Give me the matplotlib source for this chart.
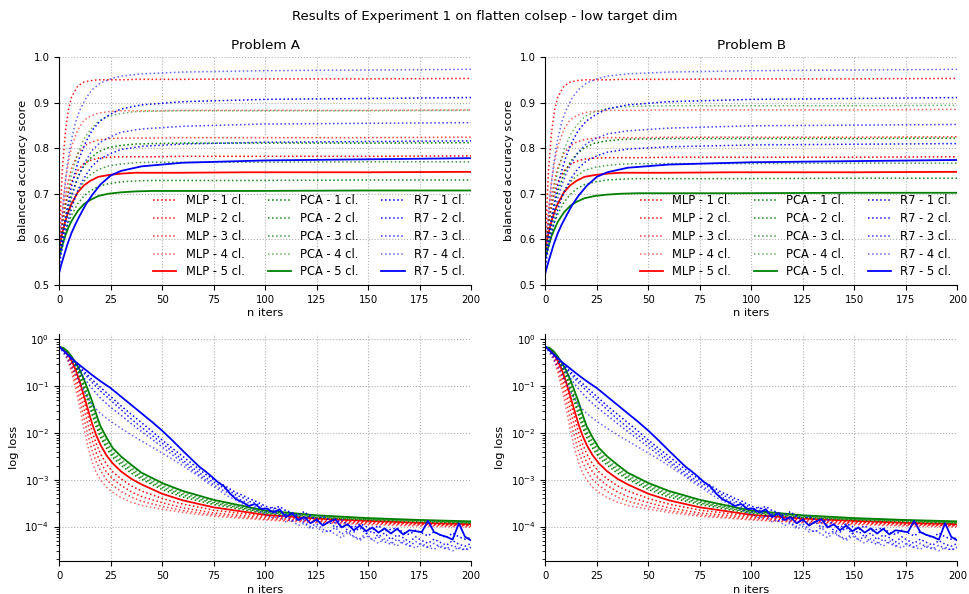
import numpy as np
import matplotlib
matplotlib.use("Agg")
import matplotlib.pyplot as plt

iters_acc_fast = [0, 1.5, 3, 4.5, 6, 9, 12, 15, 19, 24, 30, 37, 45, 60, 90, 150, 200]
iters_acc_r7 = [0, 1, 2, 3, 4, 6, 8, 10, 13, 16, 20, 25, 30, 40, 60, 100, 200]
iters_loss = [0, 2, 4, 6, 8, 10, 12, 14, 16, 18, 20, 23, 26, 30, 35, 40, 50, 60, 75, 100, 125, 150, 175, 200]
iters_r7 = [0, 4, 8, 12, 16, 20, 25, 30, 35, 40, 45, 50, 55, 60, 64, 68] + list(range(71, 201, 3))

methods = ["MLP", "PCA", "R7"]
n_classes = [1, 2, 3, 4, 5]
problems = ["Problem A", "Problem B"]

# balanced accuracy, problem A (one row per number of classes)
acc_a_mlp = [
    [.570, .629, .673, .703, .726, .751, .766, .773, .778, .780, .781, .781, .781, .782, .782, .782, .783],
    [.600, .750, .835, .884, .912, .936, .945, .948, .950, .950, .950, .951, .951, .951, .952, .952, .953],
    [.570, .641, .693, .729, .756, .787, .804, .812, .818, .821, .822, .822, .822, .823, .823, .823, .824],
    [.580, .665, .728, .770, .803, .840, .861, .870, .877, .880, .882, .882, .882, .883, .883, .883, .884],
    [.580, .613, .640, .661, .678, .703, .718, .728, .737, .741, .744, .746, .746, .746, .747, .747, .748],
]
acc_a_pca = [
    [.560, .605, .643, .673, .698, .736, .761, .777, .792, .801, .806, .809, .810, .811, .811, .811, .812],
    [.560, .590, .616, .636, .653, .678, .695, .706, .716, .722, .726, .728, .729, .729, .729, .730, .730],
    [.560, .598, .629, .654, .675, .706, .727, .741, .753, .761, .765, .768, .769, .769, .769, .770, .770],
    [.570, .626, .673, .710, .742, .788, .820, .840, .859, .870, .876, .880, .881, .882, .882, .882, .883],
    [.560, .586, .608, .626, .640, .662, .677, .686, .695, .700, .703, .705, .706, .706, .706, .707, .707],
]
acc_a_r7 = [
    [.550, .586, .619, .647, .673, .716, .752, .781, .814, .839, .860, .875, .886, .895, .902, .907, .911],
    [.540, .568, .592, .615, .634, .667, .695, .717, .741, .761, .777, .788, .797, .804, .809, .813, .816],
    [.550, .581, .608, .633, .654, .691, .721, .746, .773, .795, .813, .825, .835, .842, .848, .853, .856],
    [.550, .620, .680, .725, .765, .820, .858, .883, .910, .928, .943, .952, .958, .963, .967, .970, .973],
    [.526, .544, .559, .574, .589, .614, .634, .652, .677, .697, .720, .740, .750, .760, .768, .773, .778],
]

# balanced accuracy, problem B
acc_b_mlp = [
    [.570, .629, .672, .702, .725, .750, .764, .771, .776, .778, .779, .779, .779, .780, .780, .780, .781],
    [.600, .750, .835, .884, .912, .936, .945, .948, .950, .950, .950, .951, .951, .951, .952, .952, .953],
    [.570, .641, .694, .729, .757, .788, .805, .813, .819, .822, .823, .823, .823, .824, .824, .824, .825],
    [.580, .665, .728, .771, .804, .841, .862, .871, .878, .881, .883, .883, .883, .884, .884, .884, .885],
    [.580, .613, .640, .661, .678, .703, .718, .728, .737, .741, .744, .746, .746, .746, .747, .747, .748],
]
acc_b_pca = [
    [.560, .607, .646, .677, .704, .743, .769, .786, .801, .811, .816, .819, .820, .821, .821, .821, .822],
    [.560, .591, .617, .638, .655, .681, .698, .710, .720, .726, .730, .732, .733, .733, .733, .734, .734],
    [.560, .597, .628, .653, .673, .704, .725, .738, .751, .758, .762, .765, .766, .766, .766, .767, .767],
    [.570, .628, .677, .715, .748, .796, .828, .849, .869, .880, .887, .891, .892, .893, .893, .893, .894],
    [.560, .585, .607, .623, .638, .659, .673, .682, .690, .695, .698, .700, .701, .701, .701, .702, .702],
]
acc_b_r7 = [
    [.550, .586, .619, .647, .673, .716, .752, .781, .814, .839, .860, .875, .886, .895, .902, .907, .911],
    [.540, .567, .591, .613, .632, .664, .691, .713, .737, .756, .772, .783, .791, .798, .803, .807, .810],
    [.550, .580, .607, .632, .653, .689, .719, .743, .770, .792, .810, .822, .831, .838, .844, .849, .852],
    [.550, .620, .680, .725, .765, .820, .858, .883, .910, .928, .943, .952, .958, .963, .967, .970, .973],
    [.526, .543, .558, .573, .588, .613, .633, .650, .675, .695, .717, .737, .747, .757, .764, .769, .774],
]

# log loss, read as exponents (log10) off the log axis; both problems look the same
loss_log10_mlp = [
    [-.16, -.20, -.31, -.48, -.70, -.98, -1.30, -1.64, -1.96, -2.23, -2.44, -2.67, -2.83, -2.98, -3.13, -3.24, -3.40, -3.52, -3.65, -3.78, -3.85, -3.90, -3.94, -3.97],
    [-.16, -.21, -.34, -.54, -.80, -1.12, -1.48, -1.83, -2.15, -2.42, -2.62, -2.84, -2.98, -3.12, -3.26, -3.36, -3.49, -3.60, -3.71, -3.81, -3.88, -3.92, -3.95, -3.98],
    [-.16, -.22, -.38, -.62, -.92, -1.28, -1.68, -2.05, -2.38, -2.62, -2.80, -3.00, -3.12, -3.25, -3.37, -3.46, -3.57, -3.66, -3.75, -3.84, -3.90, -3.94, -3.97, -3.99],
    [-.16, -.24, -.42, -.70, -1.05, -1.45, -1.90, -2.30, -2.62, -2.85, -3.00, -3.16, -3.27, -3.38, -3.48, -3.55, -3.63, -3.70, -3.78, -3.86, -3.92, -3.96, -3.99, -4.01],
    [-.16, -.20, -.30, -.45, -.65, -.90, -1.20, -1.50, -1.80, -2.05, -2.25, -2.48, -2.65, -2.82, -2.98, -3.10, -3.30, -3.44, -3.59, -3.75, -3.83, -3.88, -3.92, -3.95],
]
loss_log10_pca = [
    [-.16, -.19, -.28, -.41, -.59, -.80, -1.06, -1.33, -1.61, -1.87, -2.09, -2.33, -2.52, -2.69, -2.86, -2.99, -3.21, -3.37, -3.53, -3.72, -3.81, -3.86, -3.90, -3.93],
    [-.16, -.19, -.27, -.40, -.57, -.76, -1.00, -1.27, -1.53, -1.80, -2.03, -2.27, -2.47, -2.64, -2.81, -2.96, -3.17, -3.33, -3.50, -3.70, -3.80, -3.85, -3.88, -3.92],
    [-.16, -.19, -.27, -.39, -.55, -.73, -.96, -1.21, -1.46, -1.74, -1.97, -2.21, -2.42, -2.60, -2.77, -2.92, -3.14, -3.30, -3.48, -3.69, -3.78, -3.84, -3.87, -3.91],
    [-.16, -.18, -.26, -.38, -.53, -.70, -.91, -1.16, -1.41, -1.68, -1.92, -2.17, -2.38, -2.56, -2.73, -2.89, -3.11, -3.27, -3.46, -3.68, -3.77, -3.83, -3.87, -3.90],
    [-.16, -.18, -.25, -.36, -.50, -.65, -.85, -1.08, -1.32, -1.60, -1.85, -2.10, -2.32, -2.50, -2.68, -2.85, -3.07, -3.24, -3.43, -3.66, -3.76, -3.82, -3.86, -3.89],
]
loss_log10_r7 = [
    [-.15, -.30, -.50, -.68, -.86, -1.02, -1.22, -1.42, -1.60, -1.78, -1.96, -2.15, -2.33, -2.50, -2.64, -2.78,
     -2.88, -2.97, -3.05, -3.12, -3.20, -3.28, -3.33, -3.40, -3.45, -3.52,
     -3.58, -3.62, -3.57, -3.66, -3.70, -3.76, -3.68, -3.80, -3.84, -3.78,
     -3.86, -3.92, -3.85, -3.97, -4.02, -3.94, -4.00, -4.07, -3.98, -4.10,
     -4.06, -4.03, -4.13, -4.17, -4.08, -4.14, -4.20, -4.11, -4.18, -4.24,
     -4.14, -4.22, -4.27, -4.24],
    [-.15, -.32, -.52, -.72, -.92, -1.10, -1.30, -1.50, -1.70, -1.88, -2.05, -2.22, -2.40, -2.58, -2.72, -2.85,
     -2.95, -3.03, -3.10, -3.18, -3.25, -3.33, -3.38, -3.46, -3.50, -3.56,
     -3.64, -3.58, -3.68, -3.74, -3.70, -3.80, -3.86, -3.76, -3.88, -3.95,
     -3.90, -4.02, -3.96, -4.08, -4.12, -4.03, -4.15, -4.10, -4.22, -4.14,
     -4.28, -4.18, -4.24, -4.33, -4.22, -4.30, -4.36, -4.27, -4.34, -4.40,
     -4.30, -4.38, -4.42, -4.36],
    [-.15, -.35, -.58, -.82, -1.05, -1.25, -1.45, -1.62, -1.80, -1.97, -2.13, -2.30, -2.47, -2.63, -2.77, -2.90,
     -3.00, -3.08, -3.16, -3.24, -3.30, -3.38, -3.45, -3.50, -3.58, -3.62,
     -3.70, -3.65, -3.80, -3.76, -3.88, -3.84, -3.92, -4.00, -3.94, -4.06,
     -4.12, -4.02, -4.16, -4.10, -4.22, -4.26, -4.15, -4.28, -4.22, -4.33,
     -4.38, -4.27, -4.36, -4.42, -4.32, -4.40, -4.45, -4.36, -4.44, -4.48,
     -4.40, -4.47, -4.50, -4.44],
    [-.15, -.42, -.75, -1.10, -1.40, -1.58, -1.75, -1.90, -2.04, -2.17, -2.30, -2.43, -2.56, -2.70, -2.82, -2.93,
     -3.04, -3.12, -3.20, -3.30, -3.38, -3.44, -3.52, -3.57, -3.64, -3.70,
     -3.76, -3.82, -3.78, -3.90, -3.86, -3.98, -3.93, -4.05, -4.00, -4.12,
     -4.08, -4.16, -4.24, -4.14, -4.22, -4.30, -4.20, -4.28, -4.36, -4.26,
     -4.34, -4.42, -4.30, -4.40, -4.46, -4.36, -4.44, -4.49, -4.40, -4.47,
     -4.52, -4.44, -4.50, -4.46],
    [-.15, -.32, -.48, -.62, -.76, -.89, -1.04, -1.22, -1.40, -1.58, -1.76, -1.95, -2.16, -2.38, -2.55, -2.72,
     -2.82, -2.93, -3.05, -3.14, -3.30, -3.42, -3.48, -3.56, -3.52, -3.62,
     -3.62, -3.70, -3.63, -3.80, -3.72, -3.86, -3.80, -3.93, -3.85, -3.98,
     -3.90, -3.84, -4.02, -3.95, -4.08, -3.98, -4.10, -4.02, -4.13, -4.04,
     -4.15, -4.05, -4.17, -4.08, -4.10, -4.12, -3.88, -4.12, -4.18, -4.22,
     -4.28, -3.93, -4.22, -4.30],
]

# styles
colors = {"MLP": "red", "PCA": "green", "R7": "blue"}
dotted_alphas = [1.0, 0.9, 0.75, 0.6]

acc_data = {
    "Problem A": {"MLP": acc_a_mlp, "PCA": acc_a_pca, "R7": acc_a_r7},
    "Problem B": {"MLP": acc_b_mlp, "PCA": acc_b_pca, "R7": acc_b_r7},
}
acc_iters = {"MLP": iters_acc_fast, "PCA": iters_acc_fast, "R7": iters_acc_r7}
loss_data = {"MLP": loss_log10_mlp, "PCA": loss_log10_pca, "R7": loss_log10_r7}
loss_iters = {"MLP": iters_loss, "PCA": iters_loss, "R7": iters_r7}


def line_style(crrt_ind):
    """dotted and fading for 1-4 classes, solid for 5 classes."""
    if crrt_ind == 4:
        return dict(linestyle="-", linewidth=1.3, alpha=1.0)
    return dict(linestyle=":", linewidth=1.1, alpha=dotted_alphas[crrt_ind])


def style_axis(ax):
    ax.spines["top"].set_visible(False)
    ax.spines["right"].set_visible(False)
    ax.grid(True, linestyle=":", color="#b0b0b0", linewidth=0.8)
    ax.tick_params(labelsize=7.3)
    ax.set_xlim(0, 200)
    ax.set_xlabel("n iters", fontsize=8.2, labelpad=2.5)


plt.rcParams["font.family"] = ["DejaVu Sans"]

fig, axes = plt.subplots(2, 2, figsize=(9.7, 5.94), dpi=100)
fig.subplots_adjust(left=0.061, right=0.987, top=0.904, bottom=0.055,
                    hspace=0.214, wspace=0.18)
fig.suptitle("Results of Experiment 1 on flatten colsep - low target dim",
             fontsize=9.5, y=0.983)

for crrt_col, crrt_problem in enumerate(problems):
    ax_acc = axes[0, crrt_col]
    ax_loss = axes[1, crrt_col]

    for crrt_method in methods:
        for crrt_ind, crrt_n in enumerate(n_classes):
            ax_acc.plot(acc_iters[crrt_method], acc_data[crrt_problem][crrt_method][crrt_ind],
                        color=colors[crrt_method],
                        label="{} - {} cl.".format(crrt_method, crrt_n),
                        **line_style(crrt_ind))
            ax_loss.plot(loss_iters[crrt_method],
                         10.0 ** np.array(loss_data[crrt_method][crrt_ind]),
                         color=colors[crrt_method], **line_style(crrt_ind))

    style_axis(ax_acc)
    ax_acc.set_ylim(0.5, 1.0)
    ax_acc.set_title(crrt_problem, fontsize=9.7)
    ax_acc.set_ylabel("balanced accuracy score", fontsize=8.2)
    ax_acc.legend(ncol=3, loc="lower right", frameon=False, fontsize=8.3,
                  labelspacing=0.42, borderaxespad=0.15)

    style_axis(ax_loss)
    ax_loss.set_yscale("log")
    ax_loss.set_ylim(1.8e-5, 1.34)
    ax_loss.set_ylabel("log loss", fontsize=8.2)

fig.savefig("out.png", dpi=100)
